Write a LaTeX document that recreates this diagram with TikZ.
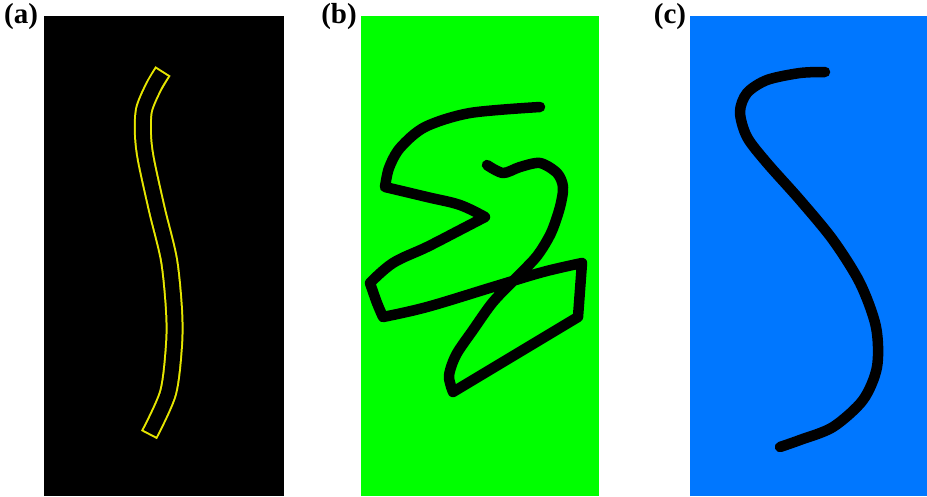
\documentclass[tikz,border=0pt]{standalone}
\usepackage{fontspec}
\setmainfont{Liberation Serif}
\definecolor{panelgreen}{RGB}{0,255,0}
\definecolor{panelblue}{RGB}{0,119,255}
\definecolor{stripyellow}{RGB}{230,230,0}
\begin{document}
\begin{tikzpicture}[x=1pt,y=-1pt,
  tag/.style={font=\bfseries\fontsize{29}{29}\selectfont, inner sep=0pt},
  stroke/.style={line width=10.5pt, line cap=round, line join=round}]
\useasboundingbox (0,0) rectangle (927,496);
% panels
\fill[black] (44,16) rectangle (284,496);
\fill[panelgreen] (361,16) rectangle (599,496);
\fill[panelblue] (690,16) rectangle (927,496);
\node[tag] (taga) at (21,17) {(a)};
\node[tag] (tagb) at (339,17) {(b)};
\node[tag] (tagc) at (670,17) {(c)};
% (a) outlined strip
\draw[stripyellow, line width=18pt] plot[smooth] coordinates {(163,71) (153,88) (144,110) (143,135) (146,160) (157,210) (169,260) (174,310) (174,345) (168,393) (149,435)};
\draw[black, line width=14pt, shorten <=2pt, shorten >=2pt] plot[smooth] coordinates {(163,71) (153,88) (144,110) (143,135) (146,160) (157,210) (169,260) (174,310) (174,345) (168,393) (149,435)};
% (b) scribble
\draw[stroke] plot[smooth] coordinates {(540,107) (470,113) (425,127) (400,148) (389,168) (385,187)}
  -- plot[smooth, tension=0.6] coordinates {(385,187) (427,197) (460,205) (485,217)}
  -- plot[smooth, tension=0.6] coordinates {(485,217) (460,230) (427,247) (393,263) (370,283)}
  -- plot[smooth, tension=0.6] coordinates {(370,283) (377,303) (383,317)}
  -- plot[smooth, tension=0.6] coordinates {(383,317) (427,307) (493,287) (543,272) (582,263)}
  -- (578,317)
  -- (453,392)
  -- plot[smooth] coordinates {(453,392) (449,376) (456,355) (473,330) (493,302) (517,277) (537,256) (551,233) (560,207) (563,187) (557,173) (540,163) (520,167) (503,173) (487,165)};
% (c) curve
\draw[stroke] plot[smooth] coordinates {(825,72) (800,73) (767,80) (747,93) (740,112) (747,137) (767,163) (800,200) (833,240) (860,283) (876,327) (877,367) (863,400) (833,427) (800,440) (780,447)};
\end{tikzpicture}
\end{document}
